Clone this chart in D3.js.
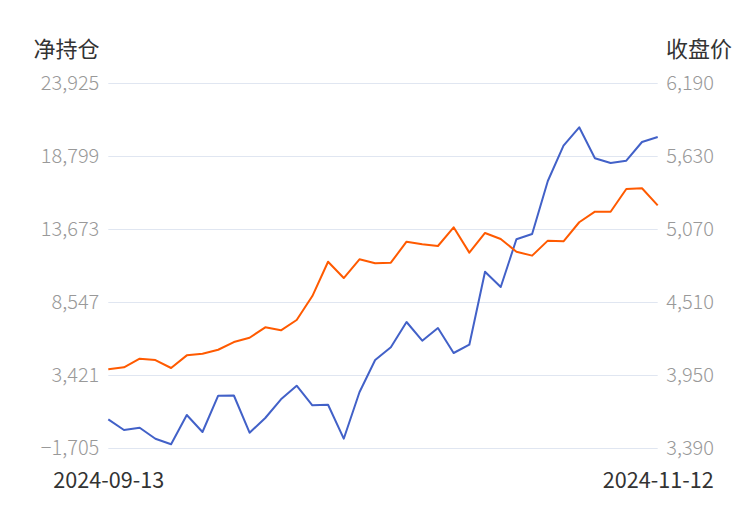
<!DOCTYPE html>
<html><head><meta charset="utf-8">
<script src="https://cdn.jsdelivr.net/npm/d3@7"></script>
<style>
html,body{margin:0;padding:0;background:#fff;}
svg{display:block;font-family:"Noto Sans CJK SC","Noto Sans",sans-serif;}
</style></head>
<body><svg id="c" width="750" height="510"></svg>
<script>
const dates = ["2024-09-13","2024-09-18","2024-09-19","2024-09-20","2024-09-23","2024-09-24","2024-09-25","2024-09-26","2024-09-27","2024-09-30",
"2024-10-08","2024-10-09","2024-10-10","2024-10-11","2024-10-14","2024-10-15","2024-10-16","2024-10-17","2024-10-18","2024-10-21",
"2024-10-22","2024-10-23","2024-10-24","2024-10-25","2024-10-28","2024-10-29","2024-10-30","2024-10-31","2024-11-01","2024-11-04",
"2024-11-05","2024-11-06","2024-11-07","2024-11-08","2024-11-11","2024-11-12"];
const netPosition = [331,-420,-259,-1031,-1424,633,-561,1988,2002,-610,
422,1735,2690,1314,1356,-1031,2227,4495,5387,7164,
5850,6742,4987,5570,10696,9621,12971,13343,17064,19543,
20835,18658,18328,18490,19803,20154];
const closePrice = [3996,4011,4077,4067,4006,4103,4116,4146,4205,4238,
4318,4295,4374,4558,4821,4696,4840,4809,4814,4975,
4955,4942,5085,4891,5042,4996,4898,4868,4983,4978,
5124,5205,5205,5379,5385,5254];
const leftTicks = [-1705,3421,8547,13673,18799,23925];
const rightTicks = [3390,3950,4510,5070,5630,6190];
const leftTitle = "净持仓";
const rightTitle = "收盘价";

const svg = d3.select("#c");
const x0 = 108.3, x1 = 657.7, yTop = 83.3, yBot = 448.3;
const x = d3.scalePoint().domain(dates).range([x0, x1]);
const yL = d3.scaleLinear().domain([leftTicks[0], leftTicks[leftTicks.length-1]]).range([yBot, yTop]);
const yR = d3.scaleLinear().domain([rightTicks[0], rightTicks[rightTicks.length-1]]).range([yBot, yTop]);
const fmt = d3.format(",");
const FF = '"Noto Sans CJK SC","Noto Sans",sans-serif';

// grid
svg.append("g").selectAll("line").data(leftTicks).join("line")
  .attr("x1", x0).attr("x2", x1)
  .attr("y1", d => Math.round(yL(d)) + 0.5).attr("y2", d => Math.round(yL(d)) + 0.5)
  .attr("stroke", "#e0e6f1").attr("stroke-width", 1);

// left axis
const gl = svg.append("g").attr("transform", `translate(${x0 - 9},0)`)
  .call(d3.axisLeft(yL).tickValues(leftTicks).tickFormat(fmt).tickSize(0).tickPadding(0));
gl.select(".domain").remove();
gl.selectAll("text").attr("fill", "#999").attr("font-size", 20).attr("font-weight", 300).attr("font-family", FF);

// right axis
const gr = svg.append("g").attr("transform", `translate(${x1 + 8.5},0)`)
  .call(d3.axisRight(yR).tickValues(rightTicks).tickFormat(fmt).tickSize(0).tickPadding(0));
gr.select(".domain").remove();
gr.selectAll("text").attr("fill", "#999").attr("font-size", 20).attr("font-weight", 300).attr("font-family", FF);

// x axis labels (first and last)
const gx = svg.append("g").attr("transform", `translate(0,${yBot})`)
  .call(d3.axisBottom(x).tickValues([dates[0], dates[dates.length-1]]).tickSize(0).tickPadding(0));
gx.select(".domain").remove();
gx.selectAll("text").attr("fill", "#333").attr("font-size", 21.6).attr("y", 40).attr("dy", 0)
  .attr("font-family", FF);

// titles
svg.append("text").attr("x", 99.5).attr("y", 57).attr("text-anchor", "end")
  .attr("fill", "#333").attr("font-size", 22).text(leftTitle);
svg.append("text").attr("x", 666).attr("y", 57).attr("text-anchor", "start")
  .attr("fill", "#333").attr("font-size", 22).text(rightTitle);

// lines
svg.append("path").datum(netPosition)
  .attr("fill", "none").attr("stroke", "#4261c8").attr("stroke-width", 2).attr("stroke-linejoin", "round")
  .attr("d", d3.line().x((d, i) => x(dates[i])).y(d => yL(d)));
svg.append("path").datum(closePrice)
  .attr("fill", "none").attr("stroke", "#ff5a00").attr("stroke-width", 2).attr("stroke-linejoin", "round")
  .attr("d", d3.line().x((d, i) => x(dates[i])).y(d => yR(d)));
</script></body></html>
